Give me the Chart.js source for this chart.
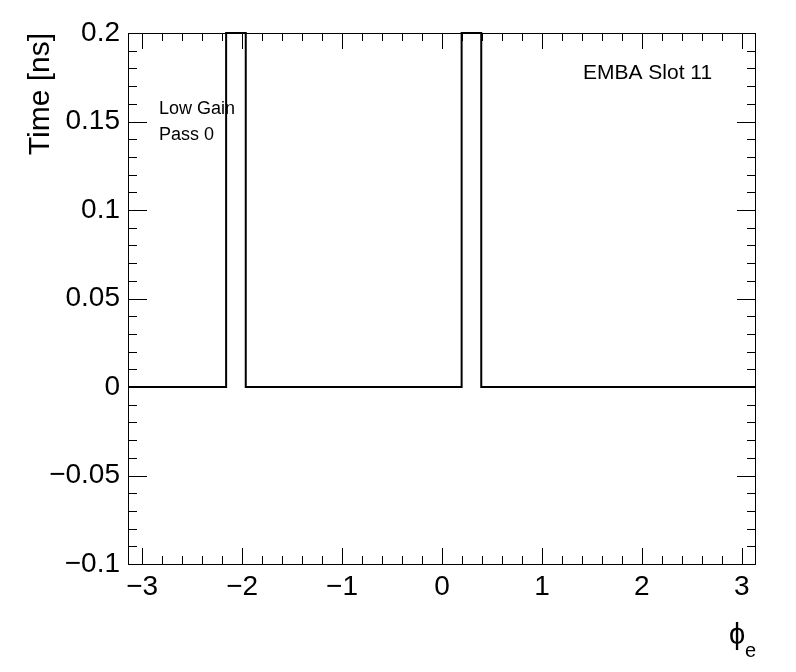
<!DOCTYPE html>
<html>
<head>
<meta charset="utf-8">
<script src="https://cdn.jsdelivr.net/npm/chart.js@4"></script>
<style>
  html, body { margin: 0; padding: 0; background: #fff; }
  canvas { display: block; }
</style>
</head>
<body>
<canvas id="timeChart" width="796" height="672"></canvas>
<script>
// histogram: 64 bins over phi in [-pi, pi]
const binCount = 64;
const xMin = -Math.PI;
const xMax = Math.PI;
const binValues = [
    0, 0, 0, 0, 0, 0, 0, 0, 0, 0, 0.2, 0.2, 0, 0, 0, 0,
    0, 0, 0, 0, 0, 0, 0, 0, 0, 0, 0, 0, 0, 0, 0, 0,
    0, 0, 0.2, 0.2, 0, 0, 0, 0, 0, 0, 0, 0, 0, 0, 0, 0,
    0, 0, 0, 0, 0, 0, 0, 0, 0, 0, 0, 0, 0, 0, 0, 0
];
const xTicks = [-3, -2, -1, 0, 1, 2, 3];
const yTicks = [-0.1, -0.05, 0, 0.05, 0.1, 0.15, 0.2];
const yMin = -0.1;
const yMax = 0.2;
const labelLines = ['Low Gain', 'Pass 0'];
const slotLabel = 'EMBA Slot 11';

const FONT = 'Liberation Sans, Arial, Helvetica, sans-serif';

const binWidth = (xMax - xMin) / binCount;
// one point per lower bin edge, plus the last upper edge
const points = binValues.map((v, i) => ({ x: xMin + i * binWidth, y: v }));
points.push({ x: xMax, y: binValues[binValues.length - 1] });

function fmt(v) {
    const s = String(Math.abs(v));
    return v < 0 ? '\u2212' + s : s;
}

// ROOT style frame, inner ticks on all four sides, and texts
const rootFrame = {
    id: 'rootFrame',
    afterDraw(c) {
        const ctx = c.ctx;
        const a = c.chartArea;
        const xs = c.scales.x, ys = c.scales.y;
        ctx.save();
        ctx.strokeStyle = '#000';
        ctx.lineWidth = 1;
        ctx.strokeRect(a.left + 0.5, a.top + 0.5, a.right - a.left - 1, a.bottom - a.top);

        ctx.beginPath();
        for (let k = -16; k <= 16; k++) {
            const v = k * 0.2;
            if (v < xMin || v > xMax) continue;
            const major = Math.abs(v - Math.round(v)) < 1e-6;
            const len = major ? 16 : 8;
            const px = Math.round(xs.getPixelForValue(v)) + 0.5;
            ctx.moveTo(px, a.bottom); ctx.lineTo(px, a.bottom - len);
            ctx.moveTo(px, a.top); ctx.lineTo(px, a.top + len);
        }
        for (let k = -10; k <= 20; k++) {
            const v = k * 0.01;
            const major = k % 5 === 0;
            const len = major ? 19 : 9;
            const py = Math.round(ys.getPixelForValue(v)) + 0.5;
            ctx.moveTo(a.left, py); ctx.lineTo(a.left + len, py);
            ctx.moveTo(a.right, py); ctx.lineTo(a.right - len, py);
        }
        ctx.stroke();

        ctx.fillStyle = '#000';
        ctx.textBaseline = 'alphabetic';
        ctx.textAlign = 'left';
        ctx.font = '21px ' + FONT;
        ctx.fillText(slotLabel, 583, 79);
        ctx.font = '18px ' + FONT;
        ctx.fillText(labelLines[0], 159, 114);
        ctx.fillText(labelLines[1], 159, 140);

        // x title: phi with subscript e
        ctx.font = '29px ' + FONT;
        ctx.fillText('\u03D5', 729, 644);
        ctx.font = '20px ' + FONT;
        ctx.fillText('e', 745, 657);

        // y title, right-aligned at top of frame
        ctx.translate(49, a.top);
        ctx.rotate(-Math.PI / 2);
        ctx.textAlign = 'right';
        ctx.font = '30px ' + FONT;
        ctx.fillText('Time [ns]', 0, 0);
        ctx.restore();
    }
};

const ctx = document.getElementById('timeChart').getContext('2d');
const chart = new Chart(ctx, {
    type: 'line',
    data: {
        datasets: [{
            data: points,
            stepped: 'before',
            borderColor: '#000',
            borderWidth: 2,
            pointRadius: 0,
            fill: false,
            clip: false,
            borderJoinStyle: 'miter'
        }]
    },
    options: {
        responsive: false,
        animation: false,
        devicePixelRatio: 1,
        layout: { padding: { top: 33, right: 40, left: 0, bottom: 0 } },
        plugins: {
            legend: { display: false },
            tooltip: { enabled: false }
        },
        scales: {
            x: {
                type: 'linear',
                min: xMin,
                max: xMax,
                border: { display: false },
                grid: { display: false, drawTicks: false },
                afterBuildTicks: s => { s.ticks = xTicks.map(v => ({ value: v })); },
                afterFit: s => { s.height = 108; },
                ticks: {
                    color: '#000',
                    padding: 6,
                    maxRotation: 0,
                    font: { family: FONT, size: 28 },
                    callback: v => fmt(v)
                }
            },
            y: {
                type: 'linear',
                min: yMin,
                max: yMax,
                border: { display: false },
                grid: { display: false, drawTicks: false },
                afterBuildTicks: s => { s.ticks = yTicks.map(v => ({ value: v })); },
                afterFit: s => { s.width = 128; },
                ticks: {
                    color: '#000',
                    padding: 8,
                    font: { family: FONT, size: 28 },
                    callback: v => fmt(v)
                }
            }
        }
    },
    plugins: [rootFrame, {
        id: 'whiteBg',
        beforeDraw(c) {
            c.ctx.save();
            c.ctx.fillStyle = '#fff';
            c.ctx.fillRect(0, 0, c.width, c.height);
            c.ctx.restore();
        }
    }]
});
</script>
</body>
</html>
